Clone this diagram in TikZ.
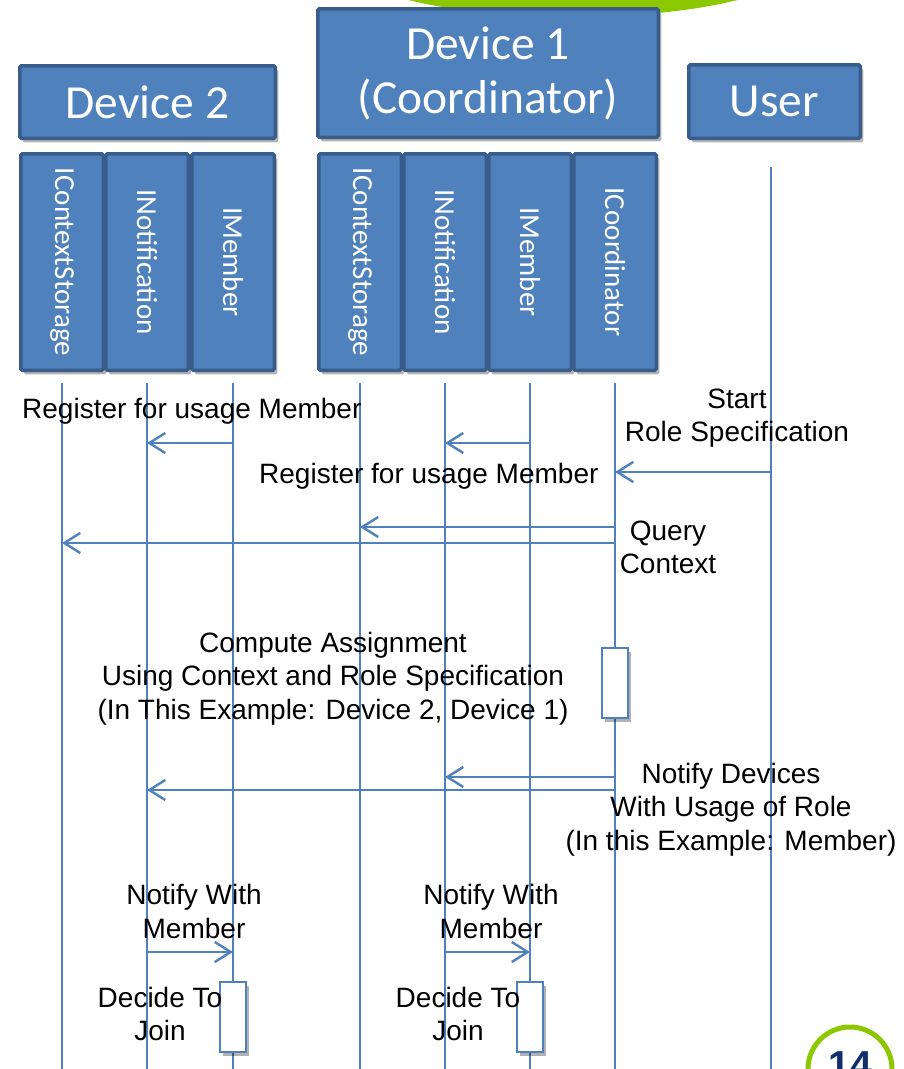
\documentclass[tikz,border=0pt]{standalone}
\usepackage{fontspec}
\setmainfont{Liberation Sans}
\newfontfamily\calfont{Carlito}
\usetikzlibrary{arrows.meta,shadows}
\definecolor{boxfill}{RGB}{79,129,189}
\definecolor{boxline}{RGB}{56,93,138}
\definecolor{limegreen}{RGB}{140,200,0}
\definecolor{navyblue}{RGB}{16,47,107}
\begin{document}
\begin{tikzpicture}[x=1pt,y=-1pt,
  shad/.style={drop shadow={shadow xshift=3pt, shadow yshift=-4pt, opacity=0.3, fill=black}},
  hdr/.style={draw=boxline, fill=boxfill, line width=3.5pt, rounded corners=1.5pt, text=white,
    font=\calfont\fontsize{47.5}{54}\selectfont, align=center, inner sep=0pt, shad},
  iface/.style={draw=boxline, fill=boxfill, line width=3.5pt, rounded corners=1.5pt,
    minimum width=82.5pt, minimum height=216.5pt, inner sep=0pt, shad},
  vlab/.style={rotate=-90, text=white, font=\calfont\fontsize{29}{34}\selectfont, inner sep=0pt},
  life/.style={draw=boxfill, line width=1.6pt},
  msg/.style={draw=boxfill, line width=2.4pt, -{Straight Barb[length=16pt,width=20pt]}},
  act/.style={draw=boxfill, fill=white, line width=2pt, minimum width=26pt, minimum height=70pt, inner sep=0pt, shad},
  lbl/.style={font=\fontsize{28}{33.5}\selectfont, align=center, inner sep=0pt, text=black}]
\useasboundingbox (0,0) rectangle (903,1069);
\clip (0,0) rectangle (903,1069);
% green decoration at top
\fill[limegreen] (573,-40) ellipse [x radius=231, y radius=57];
% headers
\node[hdr, minimum width=255.5pt, minimum height=72.5pt] (dev2) at (147.5,102) {Device 2};
\node[hdr, minimum width=340.5pt, minimum height=128.5pt] (dev1) at (488,73) {Device 1\\(Coordinator)};
\node[hdr, minimum width=171.5pt, minimum height=73.5pt] (user) at (774.5,101.5) {User};
% interface columns
\node[iface] (d2cs) at (62,262) {};
\node[iface] (d2n) at (147,262) {};
\node[iface] (d2m) at (233,262) {};
\node[iface] (d1cs) at (360,262) {};
\node[iface] (d1n) at (445,262) {};
\node[iface] (d1m) at (530,262) {};
\node[iface] (d1c) at (615,262) {};
\node[vlab] (l2cs) at (d2cs) {IContextStorage};
\node[vlab] (l2n) at (d2n) {INotification};
\node[vlab] (l2m) at (d2m) {IMember};
\node[vlab] (l1cs) at (d1cs) {IContextStorage};
\node[vlab] (l1n) at (d1n) {INotification};
\node[vlab] (l1m) at (d1m) {IMember};
\node[vlab] (l1c) at (d1c) {ICoordinator};
% lifelines
\coordinate (bot) at (0,1075);
\coordinate (ltop) at (0,383);
\foreach \n in {d2cs,d2n,d2m,d1cs,d1n,d1m,d1c}{
  \draw[life] (\n |- ltop) -- (\n |- bot);
}
\coordinate (uline) at (771,167);
\draw[life] (uline) -- (uline |- bot);
% messages
\draw[msg] (d2m |- 0,443) -- (d2n |- 0,443);
\draw[msg] (d1m |- 0,443) -- (d1n |- 0,443);
\draw[msg] (uline |- 0,472) -- (d1c |- 0,472);
\draw[msg] (d1c |- 0,527) -- (d1cs |- 0,527);
\draw[msg] (d1c |- 0,543) -- (d2cs |- 0,543);
\draw[msg] (d1c |- 0,777) -- (d1n |- 0,777);
\draw[msg] (d1c |- 0,790) -- (d2n |- 0,790);
\draw[msg] (d2n |- 0,952) -- (d2m |- 0,952);
\draw[msg] (d1n |- 0,952) -- (d1m |- 0,952);
% activations
\node[act] (a1) at (d1c |- 0,683) {};
\node[act] (a2) at (d2m |- 0,1017) {};
\node[act] (a3) at (d1m |- 0,1017) {};
% labels (base anchor = baseline of the last line)
\node[lbl, anchor=base west] (t1) at (22,418) {Register for usage Member};
\node[lbl, anchor=base] (t2) at (737,441.5) {Start\\Role Specification};
\node[lbl, anchor=base west] (t3) at (259,483) {Register for usage Member};
\node[lbl, anchor=base] (t4) at (668,573.5) {Query\\Context};
\node[lbl, anchor=base] (t5) at (333,719) {Compute Assignment\\Using Context and Role Specification\\(In This Example: Device 2, Device 1)};
\node[lbl, anchor=base] (t6) at (731,850) {Notify Devices\\With Usage of Role\\(In this Example: Member)};
\node[lbl, anchor=base] (t7) at (194,938) {Notify With\\Member};
\node[lbl, anchor=base] (t8) at (491,938) {Notify With\\Member};
\node[lbl, anchor=base] (t9) at (160,1040.5) {Decide To\\Join};
\node[lbl, anchor=base] (t10) at (458,1040.5) {Decide To\\Join};
% page number circle
\node[circle, draw=limegreen, line width=5pt, fill=white, minimum size=84pt, inner sep=0pt] (pg) at (850,1069) {};
\node[anchor=base, text=navyblue, font=\bfseries\fontsize{39}{39}\selectfont, inner sep=0pt] (pgnum) at (850,1078) {14};
\end{tikzpicture}
\end{document}
